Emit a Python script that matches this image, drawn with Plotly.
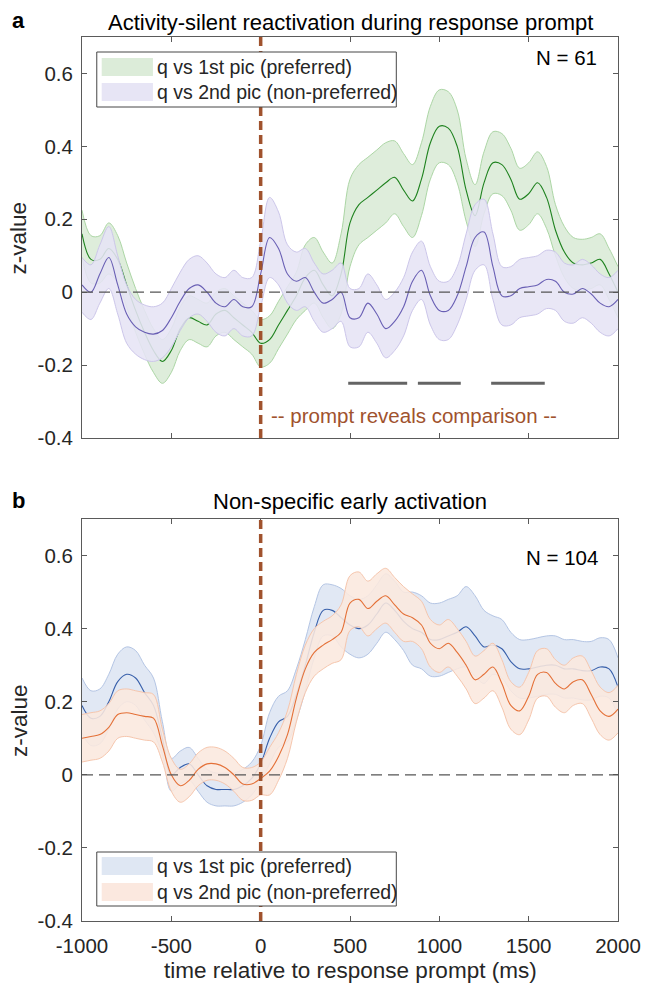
import plotly.graph_objects as go

# ---------------- data ----------------
time_ms = [-1000, -950, -900, -850, -800, -750, -700, -650, -600, -550,
           -500, -450, -400, -350, -300, -250, -200, -150, -100, -50,
           0, 50, 100, 150, 200, 250, 300, 350, 400, 450,
           500, 550, 600, 650, 700, 750, 800, 850, 900, 950,
           1000, 1050, 1100, 1150, 1200, 1250, 1300, 1350, 1400, 1450,
           1500, 1550, 1600, 1650, 1700, 1750, 1800, 1850, 1900, 1950, 2000]

# panel a: q vs 1st pic (preferred)
a_pref_mean = [0.16, 0.09, 0.09, 0.12, 0.09, 0.02, -0.05, -0.11, -0.16, -0.19,
               -0.16, -0.10, -0.07, -0.08, -0.09, -0.06, -0.05, -0.07, -0.09, -0.11,
               -0.14, -0.13, -0.09, -0.05, -0.01, 0.04, 0.06, 0.02, -0.01, 0.05,
               0.19, 0.24, 0.26, 0.28, 0.30, 0.315, 0.28, 0.25, 0.31, 0.41,
               0.455, 0.45, 0.40, 0.28, 0.21, 0.30, 0.355, 0.35, 0.31, 0.255,
               0.27, 0.30, 0.26, 0.17, 0.11, 0.08, 0.075, 0.08, 0.09, 0.05, 0.00]
a_pref_sem = [0.065, 0.065, 0.065, 0.07, 0.065, 0.06, 0.06, 0.06, 0.06, 0.06,
              0.06, 0.06, 0.06, 0.06, 0.06, 0.06, 0.06, 0.06, 0.06, 0.06,
              0.065, 0.065, 0.065, 0.065, 0.065, 0.09, 0.09, 0.09, 0.09, 0.11,
              0.12, 0.11, 0.11, 0.11, 0.11, 0.10, 0.10, 0.10, 0.10, 0.10,
              0.10, 0.10, 0.10, 0.085, 0.085, 0.085, 0.085, 0.085, 0.085, 0.085,
              0.085, 0.085, 0.085, 0.07, 0.07, 0.07, 0.07, 0.07, 0.07, 0.07, 0.07]
# panel a: q vs 2nd pic (non-preferred)
a_nonpref_mean = [0.02, 0.00, 0.05, 0.095, 0.02, -0.06, -0.095, -0.11, -0.115, -0.105,
                  -0.07, -0.025, 0.01, 0.02, 0.0, -0.03, -0.04, -0.02, -0.04, -0.04,
                  0.05, 0.15, 0.12, 0.05, 0.03, 0.04, 0.0, -0.03, -0.02, 0.0,
                  -0.07, -0.07, -0.03, -0.06, -0.10, -0.08, -0.04, 0.03, 0.06, -0.01,
                  -0.05, -0.05, -0.01, 0.07, 0.15, 0.165, 0.07, -0.01, -0.01, 0.01,
                  0.015, 0.02, 0.035, 0.03, 0.0, -0.005, 0.01, -0.005, -0.03, -0.04, -0.02]
a_nonpref_sem = [0.075, 0.075, 0.08, 0.085, 0.08, 0.08, 0.075, 0.075, 0.075, 0.075,
                 0.08, 0.08, 0.08, 0.08, 0.08, 0.08, 0.08, 0.08, 0.08, 0.08,
                 0.09, 0.11, 0.10, 0.08, 0.08, 0.08, 0.08, 0.08, 0.08, 0.08,
                 0.08, 0.08, 0.08, 0.08, 0.08, 0.08, 0.08, 0.08, 0.08, 0.08,
                 0.08, 0.08, 0.08, 0.09, 0.09, 0.09, 0.09, 0.08, 0.08, 0.08,
                 0.08, 0.08, 0.08, 0.08, 0.08, 0.08, 0.08, 0.08, 0.08, 0.08, 0.08]

# panel b: q vs 1st pic (preferred)
b_pref_mean = [0.19, 0.155, 0.16, 0.20, 0.255, 0.275, 0.265, 0.225, 0.19, 0.10,
               0.0, 0.02, 0.03, 0.0, -0.03, -0.04, -0.04, -0.04, -0.03, -0.01,
               0.03, 0.10, 0.145, 0.16, 0.22, 0.30, 0.39, 0.45, 0.45, 0.43,
               0.41, 0.40, 0.41, 0.44, 0.47, 0.45, 0.42, 0.40, 0.39, 0.37,
               0.37, 0.38, 0.39, 0.405, 0.38, 0.35, 0.355, 0.345, 0.31, 0.29,
               0.29, 0.295, 0.30, 0.30, 0.29, 0.29, 0.285, 0.285, 0.295, 0.29, 0.24]
b_pref_sem = [0.075, 0.075, 0.075, 0.075, 0.075, 0.075, 0.075, 0.075, 0.075, 0.045,
              0.045, 0.045, 0.045, 0.045, 0.045, 0.045, 0.045, 0.045, 0.045, 0.045,
              0.05, 0.07, 0.07, 0.07, 0.07, 0.07, 0.07, 0.07, 0.07, 0.08,
              0.08, 0.08, 0.08, 0.08, 0.08, 0.08, 0.08, 0.10, 0.10, 0.10,
              0.10, 0.10, 0.10, 0.11, 0.11, 0.10, 0.08, 0.08, 0.08, 0.08,
              0.08, 0.08, 0.08, 0.08, 0.08, 0.08, 0.08, 0.08, 0.08, 0.08, 0.08]
# panel b: q vs 2nd pic (non-preferred)
b_nonpref_mean = [0.10, 0.105, 0.11, 0.13, 0.165, 0.17, 0.165, 0.16, 0.155, 0.08,
                  0.0, -0.03, -0.015, 0.015, 0.03, 0.03, 0.02, 0.0, -0.025, -0.025,
                  -0.01, 0.01, 0.05, 0.11, 0.21, 0.29, 0.335, 0.355, 0.37, 0.39,
                  0.47, 0.48, 0.455, 0.475, 0.49, 0.465, 0.44, 0.43, 0.41, 0.36,
                  0.345, 0.36, 0.335, 0.30, 0.26, 0.275, 0.295, 0.25, 0.19, 0.175,
                  0.215, 0.275, 0.28, 0.25, 0.235, 0.255, 0.26, 0.22, 0.175, 0.16, 0.18]
b_nonpref_sem = [0.065, 0.065, 0.065, 0.065, 0.065, 0.065, 0.065, 0.065, 0.065, 0.045,
                 0.045, 0.045, 0.045, 0.045, 0.045, 0.045, 0.045, 0.045, 0.045, 0.045,
                 0.045, 0.065, 0.065, 0.065, 0.065, 0.065, 0.065, 0.065, 0.065, 0.075,
                 0.075, 0.075, 0.075, 0.075, 0.075, 0.075, 0.075, 0.065, 0.065, 0.065,
                 0.065, 0.065, 0.065, 0.065, 0.065, 0.065, 0.065, 0.065, 0.065, 0.065,
                 0.065, 0.065, 0.065, 0.065, 0.065, 0.065, 0.065, 0.065, 0.065, 0.065, 0.065]

# significant clusters (panel a)
sig_start = [490, 880, 1290]
sig_end = [820, 1120, 1590]
sig_level = -0.25

y_ticks = [-0.4, -0.2, 0, 0.2, 0.4, 0.6]
y_tick_labels = ["-0.4", "-0.2", "0", "0.2", "0.4", "0.6"]
x_ticks = [-1000, -500, 0, 500, 1000, 1500, 2000]
x_tick_labels = ["-1000", "-500", "0", "500", "1000", "1500", "2000"]
legend_labels = ["q vs 1st pic (preferred)", "q vs 2nd pic (non-preferred)"]

FONT = "Liberation Sans, Arial, Helvetica, sans-serif"
TXT = "#262626"
BROWN = "rgb(160,82,45)"

fig = go.Figure()


def add_band(mean, sem, fill, edge, line, xa, ya):
    upper = [m + s for m, s in zip(mean, sem)]
    lower = [m - s for m, s in zip(mean, sem)]
    fig.add_trace(go.Scatter(x=time_ms, y=lower, mode="lines", xaxis=xa, yaxis=ya,
                             line=dict(color=edge, width=1, shape="spline"),
                             showlegend=False, hoverinfo="skip"))
    fig.add_trace(go.Scatter(x=time_ms, y=upper, mode="lines", xaxis=xa, yaxis=ya,
                             fill="tonexty", fillcolor=fill,
                             line=dict(color=edge, width=1, shape="spline"),
                             showlegend=False, hoverinfo="skip"))
    fig.add_trace(go.Scatter(x=time_ms, y=mean, mode="lines", xaxis=xa, yaxis=ya,
                             line=dict(color=line, width=1.1, shape="spline"),
                             showlegend=False))


GREEN_F = "rgba(220,236,217,0.95)"
GREEN_E = "rgb(172,214,165)"
GREEN_L = "rgb(30,130,30)"
PURP_F = "rgba(230,228,245,0.88)"
PURP_E = "rgb(204,198,234)"
PURP_L = "rgb(105,95,180)"
BLUE_F = "rgba(223,231,243,0.95)"
BLUE_E = "rgb(180,197,228)"
BLUE_L = "rgb(55,95,170)"
ORAN_F = "rgba(251,232,222,0.88)"
ORAN_E = "rgb(246,198,173)"
ORAN_L = "rgb(228,112,55)"

add_band(a_pref_mean, a_pref_sem, GREEN_F, GREEN_E, GREEN_L, "x", "y")
add_band(a_nonpref_mean, a_nonpref_sem, PURP_F, PURP_E, PURP_L, "x", "y")
add_band(b_pref_mean, b_pref_sem, BLUE_F, BLUE_E, BLUE_L, "x2", "y2")
add_band(b_nonpref_mean, b_nonpref_sem, ORAN_F, ORAN_E, ORAN_L, "x2", "y2")

# significance bars
for s, e in zip(sig_start, sig_end):
    fig.add_trace(go.Scatter(x=[s, e], y=[sig_level, sig_level], mode="lines",
                             xaxis="x", yaxis="y",
                             line=dict(color="rgb(100,100,100)", width=3),
                             showlegend=False, hoverinfo="skip"))

shapes = []
for xr, yr in (("x", "y"), ("x2", "y2")):
    shapes.append(dict(type="line", xref=xr, yref=yr, x0=-1000, x1=2000, y0=0, y1=0,
                       line=dict(color="rgb(85,85,85)", width=1.3, dash="11px,6px"),
                       layer="above"))
    shapes.append(dict(type="line", xref=xr, yref=yr, x0=0, x1=0, y0=-0.4, y1=0.7,
                       line=dict(color=BROWN, width=3.5, dash="9px,5px"),
                       layer="above"))


def px_x(p):
    return (p - 82) / 544.0


def px_y(p):
    return (921 - p) / 884.0


def legend(box, rows, fills):
    x0, x1, y0, y1 = box
    shapes.append(dict(type="rect", xref="paper", yref="paper",
                       x0=px_x(x0), x1=px_x(x1), y0=px_y(y1), y1=px_y(y0),
                       line=dict(color="rgb(70,70,70)", width=1),
                       fillcolor="white", layer="above"))
    for (ry0, ry1), fc in zip(rows, fills):
        shapes.append(dict(type="rect", xref="paper", yref="paper",
                           x0=px_x(102), x1=px_x(154), y0=px_y(ry1), y1=px_y(ry0),
                           line=dict(width=0), fillcolor=fc, layer="above"))


annotations = []


def legend_text(rows):
    for (ry0, ry1), lab in zip(rows, legend_labels):
        annotations.append(dict(xref="paper", yref="paper", x=px_x(156), y=px_y((ry0 + ry1) / 2),
                                text=lab, showarrow=False, xanchor="left", yanchor="middle",
                                font=dict(family=FONT, size=19.5, color=TXT)))


rows_a = [(58, 76), (83, 101)]
rows_b = [(857, 875), (883, 901)]
legend((97, 401, 52, 107), rows_a, ["rgb(220,236,217)", "rgb(231,229,245)"])
legend((97, 401, 852, 906), rows_b, ["rgb(223,231,243)", "rgb(251,232,223)"])
legend_text(rows_a)
legend_text(rows_b)

annotations += [
    dict(xref="paper", yref="paper", x=0.5, y=px_y(22),
         text="Activity-silent reactivation during response prompt", showarrow=False,
         xanchor="center", yanchor="middle", font=dict(family=FONT, size=22, color="black")),
    dict(xref="paper", yref="paper", x=0.5, y=px_y(501),
         text="Non-specific early activation", showarrow=False,
         xanchor="center", yanchor="middle", font=dict(family=FONT, size=22, color="black")),
    dict(xref="paper", yref="paper", x=px_x(18), y=px_y(20), text="<b>a</b>", showarrow=False,
         xanchor="center", yanchor="middle", font=dict(family=FONT, size=22, color="black")),
    dict(xref="paper", yref="paper", x=px_x(18), y=px_y(500), text="<b>b</b>", showarrow=False,
         xanchor="center", yanchor="middle", font=dict(family=FONT, size=22, color="black")),
    dict(xref="paper", yref="paper", x=px_x(607), y=px_y(57), text="N = 61", showarrow=False,
         xanchor="right", yanchor="middle", font=dict(family=FONT, size=20.5, color="black")),
    dict(xref="paper", yref="paper", x=px_x(608), y=px_y(557), text="N = 104", showarrow=False,
         xanchor="right", yanchor="middle", font=dict(family=FONT, size=20.5, color="black")),
    dict(xref="paper", yref="paper", x=px_x(272), y=px_y(415),
         text="-- prompt reveals comparison --", showarrow=False,
         xanchor="left", yanchor="middle", font=dict(family=FONT, size=20.5, color=BROWN)),
    dict(xref="paper", yref="paper", x=px_x(18), y=px_y(237.5), text="z-value", showarrow=False,
         textangle=-90, xanchor="center", yanchor="middle",
         font=dict(family=FONT, size=22.5, color=TXT)),
    dict(xref="paper", yref="paper", x=px_x(18), y=px_y(720), text="z-value", showarrow=False,
         textangle=-90, xanchor="center", yanchor="middle",
         font=dict(family=FONT, size=22.5, color=TXT)),
    dict(xref="paper", yref="paper", x=0.5, y=px_y(970),
         text="time relative to response prompt (ms)", showarrow=False,
         xanchor="center", yanchor="middle", font=dict(family=FONT, size=22.5, color=TXT)),
]

axis_common = dict(showgrid=False, zeroline=False, showline=True, linecolor="rgb(90,90,90)",
                   linewidth=1, mirror="ticks", ticks="inside", ticklen=5,
                   tickcolor="rgb(90,90,90)", tickfont=dict(family=FONT, size=20.5, color=TXT))

fig.update_layout(
    width=653, height=988,
    margin=dict(l=82, r=27, t=37, b=67),
    plot_bgcolor="white", paper_bgcolor="white",
    showlegend=False,
    xaxis=dict(domain=[0, 1], range=[-1000, 2000], anchor="y", tickvals=x_ticks,
               ticktext=x_tick_labels, showticklabels=False, **axis_common),
    yaxis=dict(domain=[px_y(438), 1], range=[-0.4, 0.7], anchor="x", tickvals=y_ticks,
               ticktext=y_tick_labels, ticklabelstandoff=4, **axis_common),
    xaxis2=dict(domain=[0, 1], range=[-1000, 2000], anchor="y2", tickvals=x_ticks,
                ticktext=x_tick_labels, ticklabelstandoff=6, **axis_common),
    yaxis2=dict(domain=[0, px_y(519)], range=[-0.4, 0.7], anchor="x2", tickvals=y_ticks,
                ticktext=y_tick_labels, ticklabelstandoff=4, **axis_common),
    shapes=shapes,
    annotations=annotations,
)

fig.write_html("out.html")
